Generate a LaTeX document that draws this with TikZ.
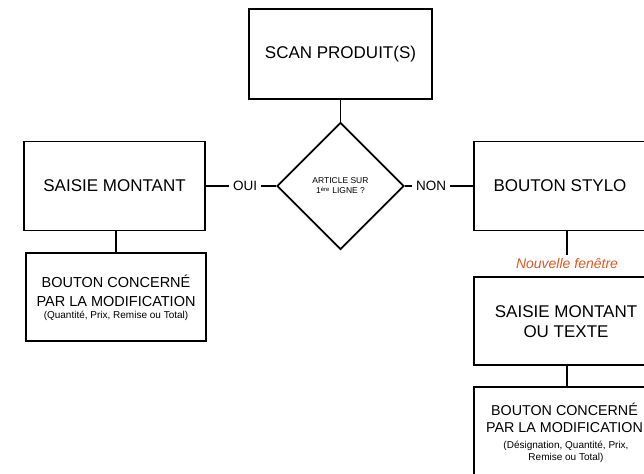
\documentclass[tikz,border=0pt]{standalone}
\usepackage{fontspec}
\setmainfont{Liberation Sans}
\usetikzlibrary{shapes.geometric}
\definecolor{orangetxt}{RGB}{232,85,25}
\tikzset{
  box/.style={draw, line width=1.8pt, rectangle, inner sep=0pt, align=center, font=\fontsize{17}{21}\selectfont},
  decision/.style={draw, diamond, aspect=1, line width=1.8pt, inner sep=0pt, align=center, font=\fontsize{8.5}{10}\selectfont},
  link/.style={line width=1.8pt},
  lbl/.style={inner sep=4pt, font=\fontsize{13.5}{15}\selectfont},
  txt/.style={inner sep=0pt, align=center},
  big/.style={font=\fontsize{17}{20}\selectfont},
}
\begin{document}
\begin{tikzpicture}[x=1pt,y=-1pt]
\useasboundingbox (0,0) rectangle (644,473);
\clip (0,0) rectangle (644,473);
% top
\node[box, minimum width=183pt, minimum height=90pt] (scan) at (340.5,54) {SCAN PRODUIT(S)};
\node[decision, minimum width=127pt, minimum height=127pt] (dia) at (340.5,186) {ARTICLE SUR\\1\textsuperscript{ère} LIGNE ?};
% left column
\node[box, minimum width=181pt, minimum height=89pt] (left1) at (114.5,186) {SAISIE MONTANT};
\node[box, minimum width=180pt, minimum height=88pt] (left2) at (116,297) {};
\node[txt, font=\fontsize{14.5}{19}\selectfont] (left2a) at (116,290.5) {BOUTON CONCERNÉ\\PAR LA MODIFICATION};
\node[txt, font=\fontsize{10}{12}\selectfont] (left2b) at (116,316) {(Quantité, Prix, Remise ou Total)};
% right column
\node[box, minimum width=186pt, minimum height=89pt] (right1) at (567,186) {};
\node[txt, big] (right1t) at (560,186) {BOUTON STYLO};
\node[inner sep=3pt, text=orangetxt, font=\fontsize{14}{16}\selectfont\itshape] (fen) at (567,263) {Nouvelle fenêtre};
\node[box, minimum width=186pt, minimum height=88pt] (right2) at (567,321) {};
\node[txt, font=\fontsize{17}{20}\selectfont] (right2t) at (566,322) {SAISIE MONTANT\\OU TEXTE};
\node[box, minimum width=186pt, minimum height=103pt] (right3) at (567,438.5) {};
\node[txt, font=\fontsize{14.3}{17}\selectfont] (right3a) at (564.5,417.5) {BOUTON CONCERNÉ\\PAR LA MODIFICATION};
\node[txt, font=\fontsize{10}{11.5}\selectfont] (right3b) at (566,452) {(Désignation, Quantité, Prix,\\Remise ou Total)};
% labels
\node[lbl] (oui) at (245,186) {OUI};
\node[lbl] (non) at (431,186) {NON};
% connectors
\draw[link] (scan.south) -- (dia.north);
\draw[link] (left1.east) -- (oui.west);
\draw[link] (oui.east) -- (dia.west);
\draw[link] (dia.east) -- (non.west);
\draw[link] (non.east) -- (right1.west);
\draw[link] (left1.south -| left2.north) -- (left2.north);
\draw[link] (right1.south) -- (fen.north);
\draw[link] (right2.south) -- (right3.north);
\end{tikzpicture}
\end{document}
